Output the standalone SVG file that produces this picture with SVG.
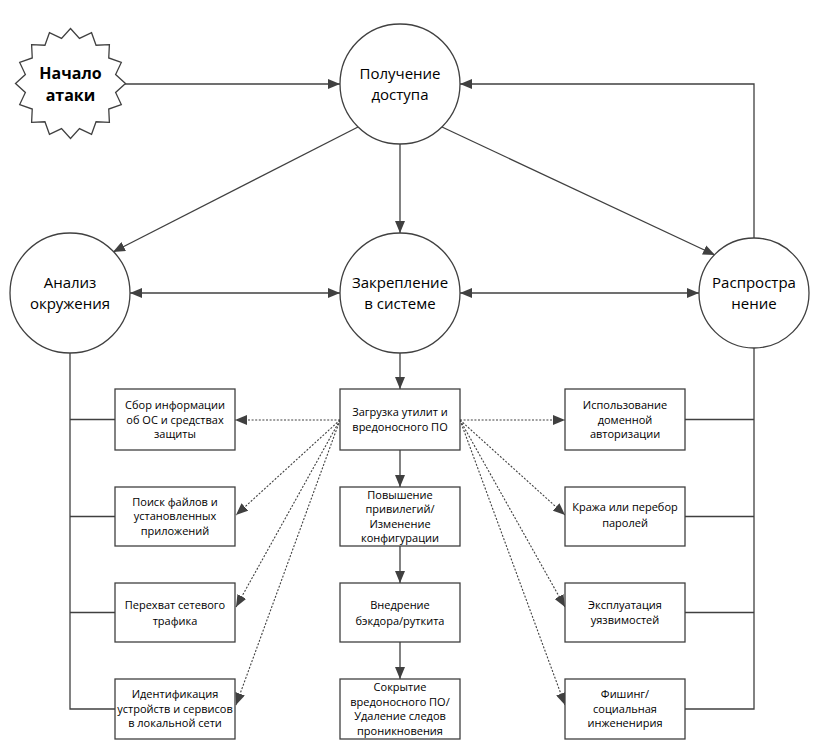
<svg xmlns="http://www.w3.org/2000/svg" width="820" height="754" viewBox="0 0 820 754">
<defs>
<style>
.shape{fill:#fff;stroke:#404040;stroke-width:1.3}
.line{fill:none;stroke:#404040;stroke-width:1.3}
.dot{fill:none;stroke:#404040;stroke-width:1.1;stroke-dasharray:2 1.6}
.ct{font-family:"Open Sans","Noto Sans",sans-serif;font-size:15px;fill:#000;text-anchor:middle}
.bt{font-family:"Open Sans","Noto Sans",sans-serif;font-size:11px;fill:#000;text-anchor:middle}
.st{font-family:"Open Sans","Noto Sans",sans-serif;font-size:16px;font-weight:bold;fill:#000;text-anchor:middle}
</style>
<marker id="arr" viewBox="0 0 12 10" refX="12" refY="5" markerWidth="12" markerHeight="10" markerUnits="userSpaceOnUse" orient="auto-start-reverse">
<path d="M0,0 L12,5 L0,10 Z" fill="#404040"/>
</marker>
</defs>
<rect width="820" height="754" fill="#fff"/>

<g id="connectors">
<line class="line" x1="125" y1="84" x2="340" y2="84" marker-end="url(#arr)"/>
<polyline class="line" points="754,238 754,84 460,84" marker-end="url(#arr)"/>
<line class="line" x1="358" y1="127" x2="113" y2="252" marker-end="url(#arr)"/>
<line class="line" x1="400" y1="144" x2="400" y2="233" marker-end="url(#arr)"/>
<line class="line" x1="442" y1="127" x2="715" y2="255" marker-end="url(#arr)"/>
<line class="line" x1="130" y1="293" x2="340" y2="293" marker-start="url(#arr)" marker-end="url(#arr)"/>
<line class="line" x1="460" y1="293" x2="699" y2="293" marker-start="url(#arr)" marker-end="url(#arr)"/>
<line class="line" x1="400" y1="353" x2="400" y2="389" marker-end="url(#arr)"/>
<line class="line" x1="400" y1="450" x2="400" y2="487" marker-end="url(#arr)"/>
<line class="line" x1="400" y1="546" x2="400" y2="583" marker-end="url(#arr)"/>
<line class="line" x1="400" y1="642" x2="400" y2="679" marker-end="url(#arr)"/>
<polyline class="line" points="70,353 70,709 115,709"/>
<line class="line" x1="70" y1="419.5" x2="115" y2="419.5"/>
<line class="line" x1="70" y1="516.5" x2="115" y2="516.5"/>
<line class="line" x1="70" y1="612.5" x2="115" y2="612.5"/>
<polyline class="line" points="754,348 754,709 685,709"/>
<line class="line" x1="754" y1="419.5" x2="685" y2="419.5"/>
<line class="line" x1="754" y1="516.5" x2="685" y2="516.5"/>
<line class="line" x1="754" y1="612.5" x2="685" y2="612.5"/>
<line class="dot" x1="340" y1="420" x2="235" y2="420" marker-end="url(#arr)"/>
<line class="dot" x1="340" y1="420" x2="236" y2="515" marker-end="url(#arr)"/>
<line class="dot" x1="340" y1="420" x2="236" y2="607" marker-end="url(#arr)"/>
<line class="dot" x1="340" y1="420" x2="236" y2="705" marker-end="url(#arr)"/>
<line class="dot" x1="460" y1="420" x2="565" y2="420" marker-end="url(#arr)"/>
<line class="dot" x1="460" y1="420" x2="565" y2="515" marker-end="url(#arr)"/>
<line class="dot" x1="460" y1="420" x2="565" y2="607" marker-end="url(#arr)"/>
<line class="dot" x1="460" y1="420" x2="565" y2="705" marker-end="url(#arr)"/>
</g>

<g id="start">
<polygon class="shape" points="70.5,28.5 79.47,38.38 91.55,32.69 96.06,45.25 109.39,44.61 108.75,57.94 121.31,62.45 115.62,74.53 125.5,83.5 115.62,92.47 121.31,104.55 108.75,109.06 109.39,122.39 96.06,121.75 91.55,134.31 79.47,128.62 70.5,138.5 61.53,128.62 49.45,134.31 44.94,121.75 31.61,122.39 32.25,109.06 19.69,104.55 25.38,92.47 15.5,83.5 25.38,74.53 19.69,62.45 32.25,57.94 31.61,44.61 44.94,45.25 49.45,32.69 61.53,38.38"/>
<text class="st" x="70.5" y="79">Начало</text>
<text class="st" x="70.5" y="101">атаки</text>
</g>

<g id="access">
<circle class="shape" cx="400" cy="84" r="60"/>
<text class="ct" x="400" y="79">Получение</text>
<text class="ct" x="400" y="100">доступа</text>
</g>
<g id="analysis">
<circle class="shape" cx="70" cy="293" r="60"/>
<text class="ct" x="70" y="288">Анализ</text>
<text class="ct" x="70" y="309">окружения</text>
</g>
<g id="persistence">
<circle class="shape" cx="400" cy="293" r="60"/>
<text class="ct" x="400" y="288">Закрепление</text>
<text class="ct" x="400" y="309">в системе</text>
</g>
<g id="spread">
<circle class="shape" cx="754" cy="293" r="55"/>
<text class="ct" x="754" y="288">Распростра</text>
<text class="ct" x="754" y="309">нение</text>
</g>

<g id="b-collect">
<rect class="shape" x="115" y="389" width="120" height="61"/>
<text class="bt" x="175" y="409">Сбор информации</text>
<text class="bt" x="175" y="423.5">об ОС и средствах</text>
<text class="bt" x="175" y="438">защиты</text>
</g>
<g id="b-search">
<rect class="shape" x="115" y="487" width="120" height="59"/>
<text class="bt" x="175" y="505.5">Поиск файлов и</text>
<text class="bt" x="175" y="520">установленных</text>
<text class="bt" x="175" y="534.5">приложений</text>
</g>
<g id="b-sniff">
<rect class="shape" x="115" y="583" width="120" height="59"/>
<text class="bt" x="175" y="609">Перехват сетевого</text>
<text class="bt" x="175" y="625">трафика</text>
</g>
<g id="b-ident">
<rect class="shape" x="115" y="679" width="120" height="60"/>
<text class="bt" x="175" y="698">Идентификация</text>
<text class="bt" x="175" y="712.5">устройств и сервисов</text>
<text class="bt" x="175" y="727">в локальной сети</text>
</g>

<g id="b-load">
<rect class="shape" x="340" y="389" width="120" height="61"/>
<text class="bt" x="400" y="416">Загрузка утилит и</text>
<text class="bt" x="400" y="430.5">вредоносного ПО</text>
</g>
<g id="b-priv">
<rect class="shape" x="340" y="487" width="120" height="59"/>
<text class="bt" x="400" y="498.5">Повышение</text>
<text class="bt" x="400" y="513">привилегий/</text>
<text class="bt" x="400" y="527.5">Изменение</text>
<text class="bt" x="400" y="542">конфигурации</text>
</g>
<g id="b-backdoor">
<rect class="shape" x="340" y="583" width="120" height="59"/>
<text class="bt" x="400" y="609">Внедрение</text>
<text class="bt" x="400" y="625">бэкдора/руткита</text>
</g>
<g id="b-hide">
<rect class="shape" x="340" y="679" width="120" height="60"/>
<text class="bt" x="400" y="691">Сокрытие</text>
<text class="bt" x="400" y="705.5">вредоносного ПО/</text>
<text class="bt" x="400" y="720">Удаление следов</text>
<text class="bt" x="400" y="734.5">проникновения</text>
</g>

<g id="b-domain">
<rect class="shape" x="565" y="389" width="120" height="61"/>
<text class="bt" x="625" y="409">Использование</text>
<text class="bt" x="625" y="423.5">доменной</text>
<text class="bt" x="625" y="438">авторизации</text>
</g>
<g id="b-pass">
<rect class="shape" x="565" y="487" width="120" height="59"/>
<text class="bt" x="625" y="511">Кража или перебор</text>
<text class="bt" x="625" y="527">паролей</text>
</g>
<g id="b-exploit">
<rect class="shape" x="565" y="583" width="120" height="59"/>
<text class="bt" x="625" y="609">Эксплуатация</text>
<text class="bt" x="625" y="623.5">уязвимостей</text>
</g>
<g id="b-phish">
<rect class="shape" x="565" y="679" width="120" height="60"/>
<text class="bt" x="625" y="698">Фишинг/</text>
<text class="bt" x="625" y="712.5">социальная</text>
<text class="bt" x="625" y="727">инжененирия</text>
</g>
</svg>
